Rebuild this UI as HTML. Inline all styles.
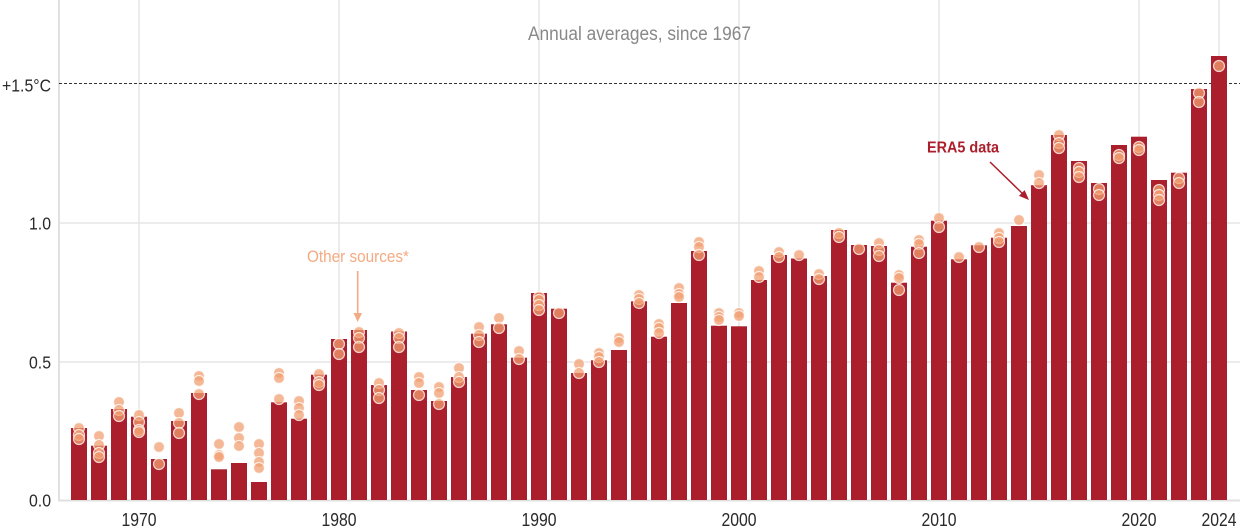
<!DOCTYPE html>
<html><head><meta charset="utf-8"><style>
html,body{margin:0;padding:0;background:#fff;}
svg{display:block;}
text{font-family:"Liberation Sans",sans-serif;}
</style></head><body>
<svg width="1240" height="531" viewBox="0 0 1240 531" xmlns="http://www.w3.org/2000/svg">
<g stroke="#e6e6e6" stroke-width="1.5">
<line x1="139" y1="0" x2="139" y2="500"/><line x1="339" y1="0" x2="339" y2="500"/><line x1="539" y1="0" x2="539" y2="500"/><line x1="739" y1="0" x2="739" y2="500"/><line x1="939" y1="0" x2="939" y2="500"/><line x1="1139" y1="0" x2="1139" y2="500"/><line x1="1219" y1="0" x2="1219" y2="500"/>
<line x1="59" y1="362" x2="1240" y2="362"/><line x1="59" y1="223" x2="1240" y2="223"/>
</g>
<line x1="59" y1="0" x2="59" y2="501" stroke="#e0e0e0" stroke-width="2"/>
<line x1="58" y1="500.5" x2="1240" y2="500.5" stroke="#e0e0e0" stroke-width="2"/>
<line x1="59" y1="83.5" x2="1240" y2="83.5" stroke="#333" stroke-width="1" stroke-dasharray="3,2"/>
<g fill="#ab1e2b">
<rect x="71" y="428" width="16" height="72"/>
<rect x="91" y="445.7" width="16" height="54.3"/>
<rect x="111" y="409" width="16" height="91"/>
<rect x="131" y="416.7" width="16" height="83.3"/>
<rect x="151" y="459" width="16" height="41"/>
<rect x="171" y="421" width="16" height="79"/>
<rect x="191" y="393" width="16" height="107"/>
<rect x="211" y="469.3" width="16" height="30.7"/>
<rect x="231" y="463" width="16" height="37"/>
<rect x="251" y="482" width="16" height="18"/>
<rect x="271" y="402.3" width="16" height="97.7"/>
<rect x="291" y="418.7" width="16" height="81.3"/>
<rect x="311" y="374.7" width="16" height="125.3"/>
<rect x="331" y="339" width="16" height="161"/>
<rect x="351" y="330" width="16" height="170"/>
<rect x="371" y="385" width="16" height="115"/>
<rect x="391" y="331.5" width="16" height="168.5"/>
<rect x="411" y="390" width="16" height="110"/>
<rect x="431" y="401" width="16" height="99"/>
<rect x="451" y="377" width="16" height="123"/>
<rect x="471" y="333.7" width="16" height="166.3"/>
<rect x="491" y="324.3" width="16" height="175.7"/>
<rect x="511" y="357.7" width="16" height="142.3"/>
<rect x="531" y="293" width="16" height="207"/>
<rect x="551" y="308.7" width="16" height="191.3"/>
<rect x="571" y="373" width="16" height="127"/>
<rect x="591" y="360.3" width="16" height="139.7"/>
<rect x="611" y="350" width="16" height="150"/>
<rect x="631" y="301.3" width="16" height="198.7"/>
<rect x="651" y="336.7" width="16" height="163.3"/>
<rect x="671" y="303" width="16" height="197"/>
<rect x="691" y="251" width="16" height="249"/>
<rect x="711" y="325.7" width="16" height="174.3"/>
<rect x="731" y="326.3" width="16" height="173.7"/>
<rect x="751" y="280" width="16" height="220"/>
<rect x="771" y="255" width="16" height="245"/>
<rect x="791" y="258.5" width="16" height="241.5"/>
<rect x="811" y="276" width="16" height="224"/>
<rect x="831" y="230" width="16" height="270"/>
<rect x="851" y="245" width="16" height="255"/>
<rect x="871" y="246" width="16" height="254"/>
<rect x="891" y="282.7" width="16" height="217.3"/>
<rect x="911" y="246.7" width="16" height="253.3"/>
<rect x="931" y="220.7" width="16" height="279.3"/>
<rect x="951" y="259.3" width="16" height="240.7"/>
<rect x="971" y="245.3" width="16" height="254.7"/>
<rect x="991" y="237.7" width="16" height="262.3"/>
<rect x="1011" y="226" width="16" height="274"/>
<rect x="1031" y="185.2" width="16" height="314.8"/>
<rect x="1051" y="135" width="16" height="365"/>
<rect x="1071" y="161" width="16" height="339"/>
<rect x="1091" y="183" width="16" height="317"/>
<rect x="1111" y="145" width="16" height="355"/>
<rect x="1131" y="136.7" width="16" height="363.3"/>
<rect x="1151" y="180" width="16" height="320"/>
<rect x="1171" y="172.7" width="16" height="327.3"/>
<rect x="1191" y="89" width="16" height="411"/>
<rect x="1211" y="56" width="16" height="444"/>
</g>
<g fill="rgb(242,160,115)" fill-opacity="0.75" stroke="#fff" stroke-opacity="0.75" stroke-width="1.2">
<circle cx="79" cy="428" r="5.5"/><circle cx="79" cy="435" r="5.5"/><circle cx="79" cy="439" r="5.5"/>
<circle cx="99" cy="436" r="5.5"/><circle cx="99" cy="445" r="5.5"/><circle cx="99" cy="453" r="5.5"/><circle cx="99" cy="457" r="5.5"/>
<circle cx="119" cy="402" r="5.5"/><circle cx="119" cy="410" r="5.5"/><circle cx="119" cy="416" r="5.5"/>
<circle cx="139" cy="415" r="5.5"/><circle cx="139" cy="422" r="5.5"/><circle cx="139" cy="430" r="5.5"/><circle cx="139" cy="432" r="5.5"/>
<circle cx="159" cy="447" r="5.5"/><circle cx="159" cy="464" r="5.5"/>
<circle cx="179" cy="413" r="5.5"/><circle cx="179" cy="423" r="5.5"/><circle cx="179" cy="433" r="5.5"/>
<circle cx="199" cy="376" r="5.5"/><circle cx="199" cy="381" r="5.5"/><circle cx="199" cy="394" r="5.5"/>
<circle cx="219" cy="444" r="5.5"/><circle cx="219" cy="455" r="5.5"/><circle cx="219" cy="457" r="5.5"/>
<circle cx="239" cy="427" r="5.5"/><circle cx="239" cy="438" r="5.5"/><circle cx="239" cy="446" r="5.5"/>
<circle cx="259" cy="444" r="5.5"/><circle cx="259" cy="453" r="5.5"/><circle cx="259" cy="462" r="5.5"/><circle cx="259" cy="468" r="5.5"/>
<circle cx="279" cy="373" r="5.5"/><circle cx="279" cy="378" r="5.5"/><circle cx="279" cy="399" r="5.5"/>
<circle cx="299" cy="401" r="5.5"/><circle cx="299" cy="408" r="5.5"/><circle cx="299" cy="415" r="5.5"/>
<circle cx="319" cy="374" r="5.5"/><circle cx="319" cy="382" r="5.5"/><circle cx="319" cy="385" r="5.5"/>
<circle cx="339" cy="344" r="5.5"/><circle cx="339" cy="354" r="5.5"/>
<circle cx="359" cy="332" r="5.5"/><circle cx="359" cy="338" r="5.5"/><circle cx="359" cy="347" r="5.5"/>
<circle cx="379" cy="383" r="5.5"/><circle cx="379" cy="390" r="5.5"/><circle cx="379" cy="398" r="5.5"/>
<circle cx="399" cy="333" r="5.5"/><circle cx="399" cy="338" r="5.5"/><circle cx="399" cy="347" r="5.5"/>
<circle cx="419" cy="377" r="5.5"/><circle cx="419" cy="383" r="5.5"/><circle cx="419" cy="395" r="5.5"/>
<circle cx="439" cy="387" r="5.5"/><circle cx="439" cy="393" r="5.5"/><circle cx="439" cy="404" r="5.5"/>
<circle cx="459" cy="368" r="5.5"/><circle cx="459" cy="377" r="5.5"/><circle cx="459" cy="382" r="5.5"/>
<circle cx="479" cy="327" r="5.5"/><circle cx="479" cy="335" r="5.5"/><circle cx="479" cy="342" r="5.5"/>
<circle cx="499" cy="318" r="5.5"/><circle cx="499" cy="328" r="5.5"/>
<circle cx="519" cy="351" r="5.5"/><circle cx="519" cy="359" r="5.5"/>
<circle cx="539" cy="297" r="5.5"/><circle cx="539" cy="300" r="5.5"/><circle cx="539" cy="305" r="5.5"/><circle cx="539" cy="310" r="5.5"/>
<circle cx="559" cy="313" r="5.5"/>
<circle cx="579" cy="364" r="5.5"/><circle cx="579" cy="373" r="5.5"/>
<circle cx="599" cy="353" r="5.5"/><circle cx="599" cy="357" r="5.5"/><circle cx="599" cy="362" r="5.5"/>
<circle cx="619" cy="338" r="5.5"/><circle cx="619" cy="342" r="5.5"/>
<circle cx="639" cy="295" r="5.5"/><circle cx="639" cy="299" r="5.5"/><circle cx="639" cy="303" r="5.5"/>
<circle cx="659" cy="324" r="5.5"/><circle cx="659" cy="328" r="5.5"/><circle cx="659" cy="333" r="5.5"/>
<circle cx="679" cy="288" r="5.5"/><circle cx="679" cy="294" r="5.5"/><circle cx="679" cy="297" r="5.5"/>
<circle cx="699" cy="242" r="5.5"/><circle cx="699" cy="247" r="5.5"/><circle cx="699" cy="255" r="5.5"/>
<circle cx="719" cy="313" r="5.5"/><circle cx="719" cy="317" r="5.5"/><circle cx="719" cy="320" r="5.5"/>
<circle cx="739" cy="313" r="5.5"/><circle cx="739" cy="316" r="5.5"/>
<circle cx="759" cy="271" r="5.5"/><circle cx="759" cy="277" r="5.5"/>
<circle cx="779" cy="252" r="5.5"/><circle cx="779" cy="257" r="5.5"/>
<circle cx="799" cy="255" r="5.5"/>
<circle cx="819" cy="274" r="5.5"/><circle cx="819" cy="279" r="5.5"/>
<circle cx="839" cy="233" r="5.5"/><circle cx="839" cy="237" r="5.5"/>
<circle cx="859" cy="249" r="5.5"/>
<circle cx="879" cy="243" r="5.5"/><circle cx="879" cy="250" r="5.5"/><circle cx="879" cy="256" r="5.5"/>
<circle cx="899" cy="275" r="5.5"/><circle cx="899" cy="278" r="5.5"/><circle cx="899" cy="290" r="5.5"/>
<circle cx="919" cy="240" r="5.5"/><circle cx="919" cy="244" r="5.5"/><circle cx="919" cy="253" r="5.5"/>
<circle cx="939" cy="218" r="5.5"/><circle cx="939" cy="227" r="5.5"/>
<circle cx="959" cy="257" r="5.5"/>
<circle cx="979" cy="247" r="5.5"/>
<circle cx="999" cy="233" r="5.5"/><circle cx="999" cy="238" r="5.5"/><circle cx="999" cy="242" r="5.5"/>
<circle cx="1019" cy="220" r="5.5"/>
<circle cx="1039" cy="175" r="5.5"/><circle cx="1039" cy="183" r="5.5"/>
<circle cx="1059" cy="135" r="5.5"/><circle cx="1059" cy="143" r="5.5"/><circle cx="1059" cy="148" r="5.5"/>
<circle cx="1079" cy="168" r="5.5"/><circle cx="1079" cy="172" r="5.5"/><circle cx="1079" cy="177" r="5.5"/>
<circle cx="1099" cy="189" r="5.5"/><circle cx="1099" cy="195" r="5.5"/>
<circle cx="1119" cy="155" r="5.5"/><circle cx="1119" cy="158" r="5.5"/>
<circle cx="1139" cy="147" r="5.5"/><circle cx="1139" cy="150" r="5.5"/>
<circle cx="1159" cy="190" r="5.5"/><circle cx="1159" cy="195" r="5.5"/><circle cx="1159" cy="200" r="5.5"/>
<circle cx="1179" cy="178" r="5.5"/><circle cx="1179" cy="183" r="5.5"/>
<circle cx="1199" cy="93" r="5.5"/><circle cx="1199" cy="102" r="5.5"/>
<circle cx="1219" cy="66" r="5.5"/>
</g>
<text x="528" y="40" font-size="19" fill="#888" textLength="223" lengthAdjust="spacingAndGlyphs">Annual averages, since 1967</text>
<g font-size="17.5" fill="#2a2a2a" text-anchor="end">
<text x="51" y="91.5" textLength="49" lengthAdjust="spacingAndGlyphs">+1.5°C</text>
<text x="51" y="229.5" textLength="22" lengthAdjust="spacingAndGlyphs">1.0</text>
<text x="51" y="368.5" textLength="22" lengthAdjust="spacingAndGlyphs">0.5</text>
<text x="51" y="506.5" textLength="22" lengthAdjust="spacingAndGlyphs">0.0</text>
</g>
<g font-size="18" fill="#2a2a2a">
<text x="121.5" y="526" textLength="35" lengthAdjust="spacingAndGlyphs">1970</text>
<text x="321.5" y="526" textLength="35" lengthAdjust="spacingAndGlyphs">1980</text>
<text x="521.5" y="526" textLength="35" lengthAdjust="spacingAndGlyphs">1990</text>
<text x="721.5" y="526" textLength="35" lengthAdjust="spacingAndGlyphs">2000</text>
<text x="921.5" y="526" textLength="35" lengthAdjust="spacingAndGlyphs">2010</text>
<text x="1121.5" y="526" textLength="35" lengthAdjust="spacingAndGlyphs">2020</text>
<text x="1201.5" y="526" textLength="35" lengthAdjust="spacingAndGlyphs">2024</text>
</g>
<text x="307" y="262" font-size="17" fill="rgb(244,170,130)" textLength="102" lengthAdjust="spacingAndGlyphs">Other sources*</text>
<line x1="357.7" y1="271" x2="357.7" y2="315" stroke="rgb(244,170,130)" stroke-width="1.6"/>
<polygon points="353.5,313 362,313 357.7,322" fill="rgb(244,170,130)"/>
<text x="927" y="152.7" font-size="16" font-weight="bold" fill="#ab1e2b" textLength="72" lengthAdjust="spacingAndGlyphs">ERA5 data</text>
<line x1="990" y1="162" x2="1024" y2="195" stroke="#ab1e2b" stroke-width="1.5"/>
<polygon points="1019,195.9 1024.6,190.1 1029,200" fill="#ab1e2b"/>
</svg>
</body></html>
